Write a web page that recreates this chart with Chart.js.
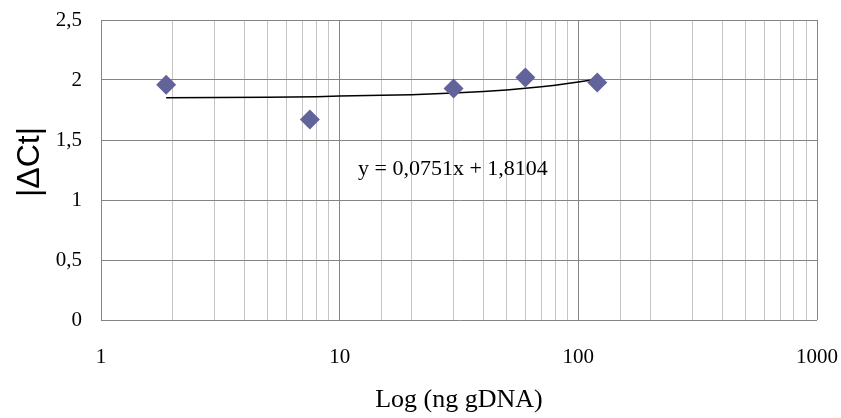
<!DOCTYPE html>
<html>
<head>
<meta charset="utf-8">
<script src="https://cdn.jsdelivr.net/npm/chart.js@4/dist/chart.umd.min.js"></script>
<style>
  html, body { margin: 0; padding: 0; background: #fff; }
  #wrap { width: 841px; height: 418px; }
</style>
</head>
<body>
<div id="wrap"><canvas id="grafico"></canvas></div>
<script>
// datos
const ngADN = [1.875, 7.5, 30, 60, 120];
const deltaCt = [1.96, 1.67, 1.93, 2.02, 1.98];

// línea de tendencia tal como aparece dibujada
const tendenciaX = [1.875, 5, 8, 10, 15, 20, 30, 40, 50, 60, 70, 80, 90, 100, 110, 120];
const tendenciaY = [1.852, 1.856, 1.861, 1.866, 1.872, 1.878, 1.891, 1.904, 1.917, 1.931, 1.944, 1.957, 1.970, 1.983, 1.996, 2.008];

const ecuacion = 'y = 0,0751x + 1,8104';
const tituloX = 'Log (ng gDNA)';
const tituloY = '|ΔCt|';

const serif = "'Liberation Serif', 'Times New Roman', serif";
const sans = "'Liberation Sans', Arial, sans-serif";

const puntos = ngADN.map((x, i) => ({ x: x, y: deltaCt[i] }));
const tendencia = tendenciaX.map((x, i) => ({ x: x, y: tendenciaY[i] }));

// ecuación y título vertical dibujados a mano
const pluginTextos = {
    id: 'textos',
    afterDatasetsDraw(chart) {
        const ctx = chart.ctx;
        ctx.save();
        ctx.fillStyle = '#000';
        ctx.font = '22px ' + serif;
        ctx.textBaseline = 'alphabetic';
        ctx.textAlign = 'left';
        ctx.fillText(ecuacion, 358, 175);

        ctx.translate(30, 162);
        ctx.rotate(-Math.PI / 2);
        ctx.font = '32px ' + sans;
        ctx.textAlign = 'center';
        ctx.textBaseline = 'middle';
        ctx.fillText(tituloY, 0, 0);
        ctx.restore();
    }
};

const esDecada = (v) => {
    const e = Math.log10(v);
    return Math.abs(e - Math.round(e)) < 1e-9;
};

new Chart(document.getElementById('grafico'), {
    type: 'scatter',
    data: {
        datasets: [
            {
                label: 'tendencia',
                data: tendencia,
                showLine: true,
                borderColor: '#000',
                borderWidth: 1.5,
                pointRadius: 0,
                fill: false,
                order: 2
            },
            {
                label: '|ΔCt|',
                data: puntos,
                pointStyle: 'rectRot',
                pointRadius: 10,
                pointBackgroundColor: '#63639c',
                pointBorderColor: '#63639c',
                pointBorderWidth: 0,
                order: 1
            }
        ]
    },
    options: {
        responsive: true,
        maintainAspectRatio: false,
        animation: false,
        layout: { padding: { top: 20, right: 24, left: 0, bottom: 0 } },
        plugins: {
            legend: { display: false },
            tooltip: { enabled: false }
        },
        scales: {
            x: {
                type: 'logarithmic',
                min: 1,
                max: 1000,
                afterFit: (scale) => {
                    scale.height = 98;
                    scale.paddingLeft = 0;
                    scale.paddingRight = 0;
                },
                grid: {
                    drawTicks: false,
                    color: (c) => (c.tick && esDecada(c.tick.value)) ? '#858585' : '#c4c4c4',
                    lineWidth: 1
                },
                border: { display: false },
                ticks: {
                    color: '#000',
                    font: { family: serif, size: 21 },
                    padding: 25,
                    maxRotation: 0,
                    autoSkip: false,
                    callback: (v) => esDecada(v) ? String(v) : ''
                },
                title: {
                    display: true,
                    text: tituloX,
                    color: '#000',
                    font: { family: serif, size: 26 },
                    padding: { top: 0, bottom: 2 }
                }
            },
            y: {
                min: 0,
                max: 2.5,
                afterFit: (scale) => {
                    scale.width = 101;
                    scale.paddingTop = 0;
                    scale.paddingBottom = 0;
                },
                grid: {
                    drawTicks: false,
                    color: '#858585',
                    lineWidth: 1
                },
                border: { display: true, color: '#858585' },
                ticks: {
                    stepSize: 0.5,
                    color: '#000',
                    font: { family: serif, size: 21 },
                    padding: 19,
                    callback: (v) => String(v).replace('.', ',')
                }
            }
        }
    },
    plugins: [pluginTextos]
});
</script>
</body>
</html>
